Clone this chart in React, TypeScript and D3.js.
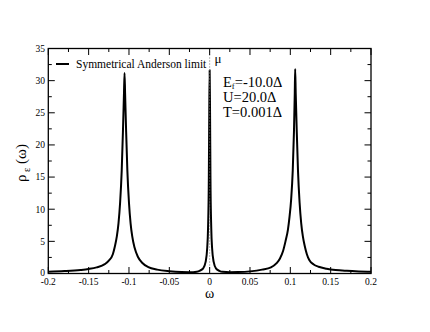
import React from "react";
import * as d3 from "d3";

const omega = [
  -0.2, -0.18, -0.16, -0.15, -0.14, -0.13, -0.125, -0.12, -0.1175, -0.115, -0.113, -0.111, -0.109, -0.1075, -0.1062,
  -0.1055, -0.1048, -0.1035, -0.102, -0.1, -0.098, -0.096, -0.093, -0.089, -0.083, -0.076, -0.065, -0.05, -0.035,
  -0.025, -0.016, -0.012, -0.008, -0.005, -0.003, -0.002, -0.001, -0.0005, 0, 0.0005, 0.001, 0.002, 0.003, 0.005,
  0.008, 0.012, 0.016, 0.025, 0.035, 0.05, 0.065, 0.076, 0.083, 0.087, 0.091, 0.094, 0.097, 0.099, 0.101, 0.103,
  0.1045, 0.1055, 0.106, 0.1067, 0.108, 0.1095, 0.1115, 0.1135, 0.1155, 0.118, 0.1205, 0.1235, 0.129, 0.135, 0.145,
  0.156, 0.17, 0.185, 0.2,
];
const rho = [
  0.28, 0.38, 0.55, 0.7, 0.95, 1.45, 2.0, 3.0, 4.2, 5.8, 7.8, 11, 16, 22, 28,
  31.2, 28, 22, 16, 11, 7.8, 5.8, 4.0, 2.6, 1.6, 1.0, 0.6, 0.35, 0.22,
  0.2, 0.28, 0.45, 0.8, 1.8, 4.0, 7.0, 15, 25, 31.6, 25, 15, 7.0, 4.0, 1.8,
  0.75, 0.42, 0.26, 0.2, 0.22, 0.33, 0.6, 0.95, 1.6, 2.3, 3.5, 5.0, 6.8, 8.8, 11.5, 16,
  22, 28, 31.8, 28, 22, 16, 11, 7.8, 5.8, 4.2, 3.0, 2.1, 1.4, 1.05, 0.75,
  0.55, 0.42, 0.33, 0.27,
];

const xTicks = [-0.2, -0.15, -0.1, -0.05, 0, 0.05, 0.1, 0.15, 0.2];
const xTickLabels = ["-0.2", "-0.15", "-0.1", "-0.05", "0", "0.05", "0.1", "0.15", "0.2"];
const yTicks = [0, 5, 10, 15, 20, 25, 30, 35];
const yTickLabels = ["0", "5", "10", "15", "20", "25", "30", "35"];
const xMinor = [-0.175, -0.125, -0.075, -0.025, 0.025, 0.075, 0.125, 0.175];
const yMinor = [2.5, 7.5, 12.5, 17.5, 22.5, 27.5, 32.5];

const legendLabel = "Symmetrical Anderson limit";
const muValue = 0;

const FONT = "Liberation Serif, Times New Roman, DejaVu Serif, serif";

export default function App() {
  const L = 48.3, R = 371, T = 48.5, B = 273.5;
  const x = d3.scaleLinear().domain([-0.2, 0.2]).range([L, R]);
  const y = d3.scaleLinear().domain([0, 35]).range([B, T]);
  const pts = omega.map((w, i) => [w, rho[i]] as [number, number]);
  const line = d3
    .line<[number, number]>()
    .x((d) => x(d[0]))
    .y((d) => y(d[1]))
    .curve(d3.curveMonotoneX);

  const majorLen = 6.5, minorLen = 3.5;
  const tf = { fontFamily: FONT };
  return (
    <svg width={430} height={332} style={{ position: "absolute", left: 0, top: 0, background: "#fff" }}>
      <rect x={0} y={0} width={430} height={332} fill="#fff" />
      <path d={line(pts) || ""} fill="none" stroke="#000" strokeWidth={2} strokeLinejoin="round" />
      <line x1={x(muValue)} x2={x(muValue)} y1={T} y2={B} stroke="#777" strokeWidth={1} strokeDasharray="1,2" />
      <rect x={L} y={T} width={R - L} height={B - T} fill="none" stroke="#000" strokeWidth={1.3} />
      {xTicks.map((t) => (
        <g key={"xt" + t}>
          <line x1={x(t)} x2={x(t)} y1={B} y2={B - majorLen} stroke="#000" strokeWidth={1} />
          <line x1={x(t)} x2={x(t)} y1={T} y2={T + majorLen} stroke="#000" strokeWidth={1} />
        </g>
      ))}
      {xMinor.map((t) => (
        <g key={"xm" + t}>
          <line x1={x(t)} x2={x(t)} y1={B} y2={B - minorLen} stroke="#000" strokeWidth={1} />
          <line x1={x(t)} x2={x(t)} y1={T} y2={T + minorLen} stroke="#000" strokeWidth={1} />
        </g>
      ))}
      {yTicks.map((t) => (
        <g key={"yt" + t}>
          <line x1={L} x2={L + majorLen} y1={y(t)} y2={y(t)} stroke="#000" strokeWidth={1} />
          <line x1={R} x2={R - majorLen} y1={y(t)} y2={y(t)} stroke="#000" strokeWidth={1} />
        </g>
      ))}
      {yMinor.map((t) => (
        <g key={"ym" + t}>
          <line x1={L} x2={L + minorLen} y1={y(t)} y2={y(t)} stroke="#000" strokeWidth={1} />
          <line x1={R} x2={R - minorLen} y1={y(t)} y2={y(t)} stroke="#000" strokeWidth={1} />
        </g>
      ))}
      {xTicks.map((t, i) => (
        <text key={"xl" + t} x={x(t)} y={284.5} fontSize={9.5} style={tf} textAnchor="middle" fill="#000">
          {xTickLabels[i]}
        </text>
      ))}
      {yTicks.map((t, i) => (
        <text key={"yl" + t} x={45} y={y(t) + (t === 0 ? 2.5 : 3.3)} fontSize={9.5} style={tf} textAnchor="end" fill="#000">
          {yTickLabels[i]}
        </text>
      ))}
      <text x={x(0)} y={298} fontSize={14} style={tf} textAnchor="middle" fill="#000">ω</text>
      <text transform="translate(26,163) rotate(-90)" fontSize={15} style={tf} textAnchor="middle" fill="#000">
        ρ<tspan fontSize={10} dy={4}> ε</tspan><tspan dy={-4}> (ω)</tspan>
      </text>
      <line x1={56} x2={69} y1={64} y2={64} stroke="#000" strokeWidth={2} />
      <text x={76} y={67.5} fontSize={11.5} style={tf} fill="#000">{legendLabel}</text>
      <text x={214.5} y={63} fontSize={13} style={tf} fill="#000">μ</text>
      <text x={223} y={86.5} fontSize={14.5} style={tf} fill="#000">
        E<tspan fontSize={8.5} dy={2}>f</tspan><tspan dy={-2}>=-10.0Δ</tspan>
      </text>
      <text x={223} y={102} fontSize={14.5} style={tf} fill="#000">U=20.0Δ</text>
      <text x={223} y={117} fontSize={14.5} style={tf} fill="#000">T=0.001Δ</text>
    </svg>
  );
}
